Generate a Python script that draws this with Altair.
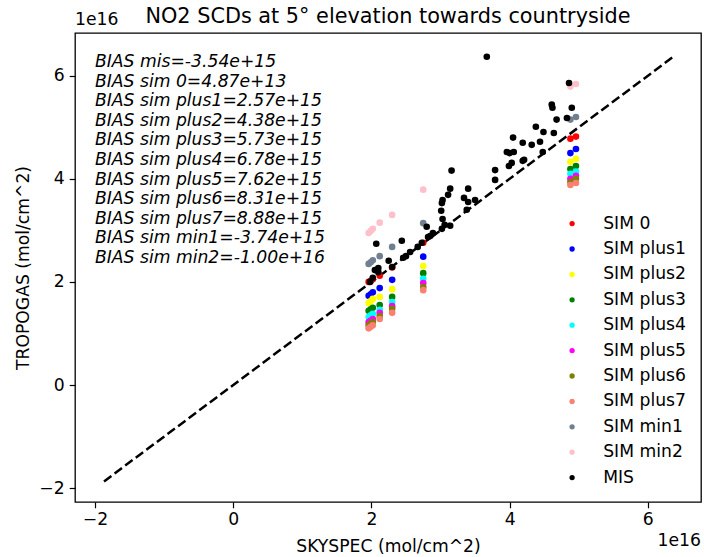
import altair as alt
import pandas as pd

E16 = 1e16  # values below are in units of 1e16 mol/cm^2

# SKYSPEC values at which the simulations are plotted
sim_x = [1.96, 1.99, 2.02, 2.12, 2.30, 2.75, 4.88, 4.96]
sim_0 = [2.00, 2.02, 2.05, 2.12, 2.28, 2.76, 4.78, 4.82]
sim_plus1 = [1.73, 1.76, 1.80, 1.88, 2.04, 2.49, 4.50, 4.58]
sim_plus2 = [1.59, 1.63, 1.67, 1.71, 1.86, 2.31, 4.33, 4.39]
sim_plus3 = [1.44, 1.47, 1.50, 1.55, 1.71, 2.17, 4.19, 4.25]
sim_plus4 = [1.32, 1.35, 1.38, 1.46, 1.61, 2.06, 4.10, 4.14]
sim_plus5 = [1.22, 1.25, 1.28, 1.40, 1.53, 1.98, 4.00, 4.06]
sim_plus6 = [1.16, 1.19, 1.22, 1.34, 1.48, 1.90, 3.94, 4.00]
sim_plus7 = [1.10, 1.13, 1.16, 1.28, 1.40, 1.84, 3.88, 3.92]
sim_min1 = [2.35, 2.38, 2.42, 2.50, 2.68, 3.14, 5.15, 5.20]
sim_min2 = [2.95, 2.99, 3.03, 3.15, 3.30, 3.79, 5.79, 5.84]

mis_x = [1.98, 2.02, 2.05, 2.07, 2.10, 2.10, 2.25, 2.30, 2.44, 2.46, 2.50,
         2.56, 2.67, 2.73, 2.80, 2.82, 2.85, 2.89, 3.01, 3.02, 3.02,
         3.03, 3.03, 3.06, 3.11, 3.14, 3.14, 3.16, 3.34, 3.38, 3.40,
         3.40, 3.50, 3.67, 3.79, 3.79, 3.96, 3.99, 4.00, 4.03, 4.05,
         4.06, 4.19, 4.19, 4.21, 4.32, 4.38, 4.44, 4.48, 4.49, 4.61,
         4.62, 4.64, 4.68, 4.83, 4.86, 4.90]
mis_y = [2.00, 2.08, 2.23, 2.74, 2.27, 2.19, 2.41, 2.29, 2.80, 2.47, 2.50,
         2.58, 2.68, 2.76, 3.07, 2.87, 2.89, 2.95, 3.38, 3.53, 3.03,
         3.22, 3.59, 3.11, 3.69, 3.09, 3.81, 4.16, 3.63, 3.40, 3.55,
         3.81, 3.59, 6.37, 3.98, 4.17, 4.52, 4.25, 4.50, 4.31, 4.80,
         4.52, 4.70, 4.35, 4.37, 4.66, 5.01, 4.72, 4.52, 4.91, 5.44,
         5.38, 4.89, 5.15, 5.18, 5.86, 5.38]

series_names = ["SIM 0", "SIM plus1", "SIM plus2", "SIM plus3", "SIM plus4",
                "SIM plus5", "SIM plus6", "SIM plus7", "SIM min1", "SIM min2", "MIS"]
series_colors = ["red", "blue", "yellow", "green", "cyan", "magenta", "olive",
                 "salmon", "slategray", "pink", "black"]

bias_lines = [
    "BIAS mis=-3.54e+15",
    "BIAS sim 0=4.87e+13",
    "BIAS sim plus1=2.57e+15",
    "BIAS sim plus2=4.38e+15",
    "BIAS sim plus3=5.73e+15",
    "BIAS sim plus4=6.78e+15",
    "BIAS sim plus5=7.62e+15",
    "BIAS sim plus6=8.31e+15",
    "BIAS sim plus7=8.88e+15",
    "BIAS sim min1=-3.74e+15",
    "BIAS sim min2=-1.00e+16",
]

title_text = "NO2 SCDs at 5° elevation towards countryside"
line_ends = [-1.87, 6.37]
tick_vals = [-2, 0, 2, 4, 6]
x_domain = [-2.29, 6.77]
y_domain = [-2.27, 6.83]

sims = [sim_0, sim_plus1, sim_plus2, sim_plus3, sim_plus4, sim_plus5,
        sim_plus6, sim_plus7, sim_min1, sim_min2]
rows = []
for name, ys in zip(series_names[:-1], sims):
    for xv, yv in zip(sim_x, ys):
        rows.append({"x": xv * E16, "y": yv * E16, "series": name})
for xv, yv in zip(mis_x, mis_y):
    rows.append({"x": xv * E16, "y": yv * E16, "series": "MIS"})
df = pd.DataFrame(rows)

FONT = "DejaVu Sans"
FS = 17.2
W, H = 626, 469
label_expr = "replace(format(datum.value/1e16, 'd'), '-', '\u2212')"

xscale = alt.Scale(domain=[v * E16 for v in x_domain], nice=False, zero=False)
yscale = alt.Scale(domain=[v * E16 for v in y_domain], nice=False, zero=False)

x_axis = alt.Axis(values=[v * E16 for v in tick_vals], labelExpr=label_expr,
                  title="SKYSPEC (mol/cm^2)", grid=False, domain=False,
                  tickSize=5.8, tickWidth=1.2, tickColor="black",
                  labelPadding=3, labelFont=FONT, labelFontSize=FS, labelColor="black",
                  titleFont=FONT, titleFontSize=FS, titleFontWeight="normal",
                  titleColor="black", titleY=49, titleBaseline="alphabetic")
y_axis = alt.Axis(values=[v * E16 for v in tick_vals], labelExpr=label_expr,
                  title="TROPOGAS (mol/cm^2)", grid=False, domain=False,
                  tickSize=5.8, tickWidth=1.2, tickColor="black",
                  labelPadding=5, labelFont=FONT, labelFontSize=FS, labelColor="black",
                  titleFont=FONT, titleFontSize=FS, titleFontWeight="normal",
                  titleColor="black", titleX=-47, titleBaseline="alphabetic")

points = alt.Chart(df).mark_circle(size=44, opacity=1).encode(
    x=alt.X("x:Q", scale=xscale, axis=x_axis),
    y=alt.Y("y:Q", scale=yscale, axis=y_axis),
    color=alt.Color("series:N",
                    scale=alt.Scale(domain=series_names, range=series_colors),
                    sort=series_names,
                    legend=alt.Legend(title=None, orient="none", legendX=488.5, legendY=182,
                                      symbolType="circle", symbolSize=28,
                                      symbolStrokeWidth=0, labelFont=FONT,
                                      labelFontSize=FS, labelColor="black",
                                      labelOffset=22.5, rowPadding=7.4, padding=0)),
)

line_df = pd.DataFrame({"x": [v * E16 for v in line_ends], "y": [v * E16 for v in line_ends]})
diag = alt.Chart(line_df).mark_line(color="black", strokeWidth=2.5, strokeDash=[9.2, 4]).encode(
    x=alt.X("x:Q", scale=xscale), y=alt.Y("y:Q", scale=yscale))

one = pd.DataFrame({"a": [0]})
bias_text = alt.Chart(one).mark_text(
    text=bias_lines, lineHeight=19.6, font=FONT, fontSize=FS, fontStyle="italic",
    align="left", baseline="top", color="black").encode(
    x=alt.value(20), y=alt.value(20))

title_mark = alt.Chart(one).mark_text(
    text=title_text, font=FONT, fontSize=20.8, align="center",
    baseline="alphabetic", color="black").encode(
    x=alt.value(W / 2), y=alt.value(-10))

off_y = alt.Chart(one).mark_text(text="1e16", font=FONT, fontSize=FS, align="left",
                                 baseline="alphabetic", color="black").encode(
    x=alt.value(0), y=alt.value(-8))
off_x = alt.Chart(one).mark_text(text="1e16", font=FONT, fontSize=FS, align="right",
                                 baseline="alphabetic", color="black").encode(
    x=alt.value(W), y=alt.value(H + 44))

chart = alt.layer(diag, points, bias_text, title_mark, off_y, off_x).properties(
    width=W, height=H,
    autosize=alt.AutoSizeParams(type="none"),
    padding={"left": 75, "top": 33, "right": 3, "bottom": 55},
).configure_view(stroke="black", strokeWidth=1.3)

chart.save("out.html", embed_options={"renderer": "svg", "actions": False})
